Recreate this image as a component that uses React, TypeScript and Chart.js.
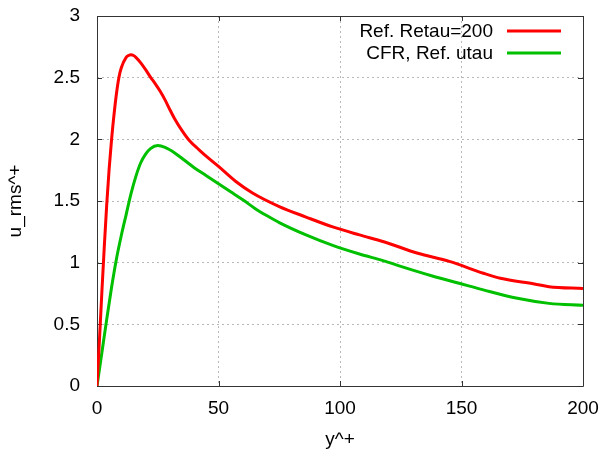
import React, { useEffect, useRef } from "react";
import { Chart, registerables } from "chart.js";

Chart.register(...registerables);

const xTicks = [0, 50, 100, 150, 200];
const yTicks = [0, 0.5, 1, 1.5, 2, 2.5, 3];

const refLabel = "Ref. Retau=200";
const refX = [0, 1, 2, 3, 4, 5, 6, 7, 8, 9, 10, 12, 13, 14, 15, 16, 18, 20, 22, 24, 26, 28, 30, 32, 35, 38, 42, 46, 50, 57, 64, 75, 86, 97, 108, 118, 132, 145, 159, 166, 180, 186, 200];
const refY = [0, 0.37, 0.76, 1.13, 1.47, 1.76, 2.0, 2.2, 2.37, 2.5, 2.58, 2.665, 2.68, 2.685, 2.68, 2.665, 2.62, 2.565, 2.505, 2.45, 2.39, 2.32, 2.24, 2.165, 2.07, 1.99, 1.915, 1.845, 1.78, 1.66, 1.565, 1.455, 1.37, 1.29, 1.225, 1.17, 1.076, 1.01, 0.914, 0.873, 0.827, 0.805, 0.79];

const cfrLabel = "CFR, Ref. utau";
const cfrX = [0, 2, 4, 6, 8, 10, 12, 14, 16, 18, 20, 22, 25, 28, 32, 36, 40, 45, 50, 55, 60, 65, 70, 75, 86, 97, 108, 118, 125, 138, 149, 159, 173, 186, 200];
const cfrY = [0, 0.27, 0.54, 0.8, 1.03, 1.22, 1.39, 1.56, 1.7, 1.81, 1.88, 1.925, 1.95, 1.935, 1.89, 1.83, 1.77, 1.705, 1.64, 1.575, 1.51, 1.44, 1.38, 1.325, 1.225, 1.14, 1.07, 1.015, 0.97, 0.892, 0.833, 0.779, 0.711, 0.67, 0.654];

const FONT = "'Liberation Sans', Arial, Helvetica, sans-serif";
const FONT_SIZE = 19;

const frameAndLegend = {
  id: "frameAndLegend",
  beforeDatasetsDraw(chart: any) {
    const { ctx, chartArea } = chart;
    const { left, right, top, bottom } = chartArea;
    const xs = chart.scales.x;
    const ys = chart.scales.y;
    ctx.save();
    ctx.strokeStyle = "#333333";
    ctx.lineWidth = 1;
    ctx.beginPath();
    ctx.rect(Math.round(left) + 0.5, Math.round(top) + 0.5, Math.round(right - left), Math.round(bottom - top));
    ctx.stroke();
    const tl = 5;
    ctx.beginPath();
    xTicks.forEach((v) => {
      const px = Math.round(xs.getPixelForValue(v)) + 0.5;
      ctx.moveTo(px, bottom);
      ctx.lineTo(px, bottom - tl);
      ctx.moveTo(px, top);
      ctx.lineTo(px, top + tl);
    });
    yTicks.forEach((v) => {
      const py = Math.round(ys.getPixelForValue(v)) + 0.5;
      ctx.moveTo(left, py);
      ctx.lineTo(left + tl, py);
      ctx.moveTo(right, py);
      ctx.lineTo(right - tl, py);
    });
    ctx.stroke();
    ctx.restore();
  },
  afterDatasetsDraw(chart: any) {
    const { ctx, chartArea } = chart;
    const { right, top } = chartArea;
    ctx.save();
    ctx.font = `${FONT_SIZE}px ${FONT}`;
    ctx.textAlign = "right";
    ctx.textBaseline = "middle";
    chart.data.datasets.forEach((ds: any, i: number) => {
      const y = top + 15 + i * 22;
      ctx.fillStyle = "#000000";
      ctx.fillText(ds.label, right - 90, y + 1);
      ctx.strokeStyle = ds.borderColor;
      ctx.lineWidth = 3;
      ctx.beginPath();
      ctx.moveTo(right - 76, y);
      ctx.lineTo(right - 22, y);
      ctx.stroke();
    });
    ctx.restore();
  },
};

export default function App() {
  const canvasRef = useRef<HTMLCanvasElement>(null);

  useEffect(() => {
    document.body.style.margin = "0";
    const canvas = canvasRef.current;
    if (!canvas) return;
    const grid = {
      display: true,
      color: "#b8b8b8",
      lineWidth: 1,
      drawTicks: false,
    };
    const chart = new Chart(canvas, {
      type: "line",
      data: {
        datasets: [
          {
            label: refLabel,
            data: refX.map((x, i) => ({ x, y: refY[i] })),
            borderColor: "#ff0000",
            borderWidth: 3,
            pointRadius: 0,
            cubicInterpolationMode: "monotone",
            fill: false,
          },
          {
            label: cfrLabel,
            data: cfrX.map((x, i) => ({ x, y: cfrY[i] })),
            borderColor: "#00c000",
            borderWidth: 3,
            pointRadius: 0,
            cubicInterpolationMode: "monotone",
            fill: false,
          },
        ],
      },
      options: {
        animation: false,
        responsive: false,
        devicePixelRatio: 1,
        layout: { padding: { top: 16, right: 18, left: 0, bottom: 0 } },
        plugins: { legend: { display: false }, tooltip: { enabled: false } },
        scales: {
          x: {
            type: "linear",
            min: 0,
            max: 200,
            afterBuildTicks: (s: any) => {
              s.ticks = xTicks.map((v) => ({ value: v }));
            },
            afterFit: (s: any) => {
              s.height = 65;
              s.paddingLeft = 0;
              s.paddingRight = 0;
            },
            grid,
            border: { display: false, dash: [2, 3] },
            ticks: {
              padding: 11,
              color: "#000000",
              font: { family: FONT, size: FONT_SIZE },
              maxRotation: 0,
              callback: (v: any) => String(v),
            },
            title: {
              display: true,
              text: "y^+",
              color: "#000000",
              font: { family: FONT, size: FONT_SIZE },
              padding: 0,
            },
          },
          y: {
            type: "linear",
            min: 0,
            max: 3,
            afterBuildTicks: (s: any) => {
              s.ticks = yTicks.map((v) => ({ value: v }));
            },
            afterFit: (s: any) => {
              s.width = 97;
              s.paddingTop = 0;
              s.paddingBottom = 0;
            },
            grid,
            border: { display: false, dash: [2, 3] },
            ticks: {
              padding: 17,
              color: "#000000",
              font: { family: FONT, size: FONT_SIZE },
              callback: (v: any) => String(v),
            },
            title: {
              display: true,
              text: "u_rms^+",
              color: "#000000",
              font: { family: FONT, size: FONT_SIZE },
              padding: { top: 4, bottom: 0 },
            },
          },
        },
      },
      plugins: [frameAndLegend],
    } as any);
    return () => chart.destroy();
  }, []);

  return <canvas ref={canvasRef} width={601} height={451} style={{ display: "block" }} />;
}
